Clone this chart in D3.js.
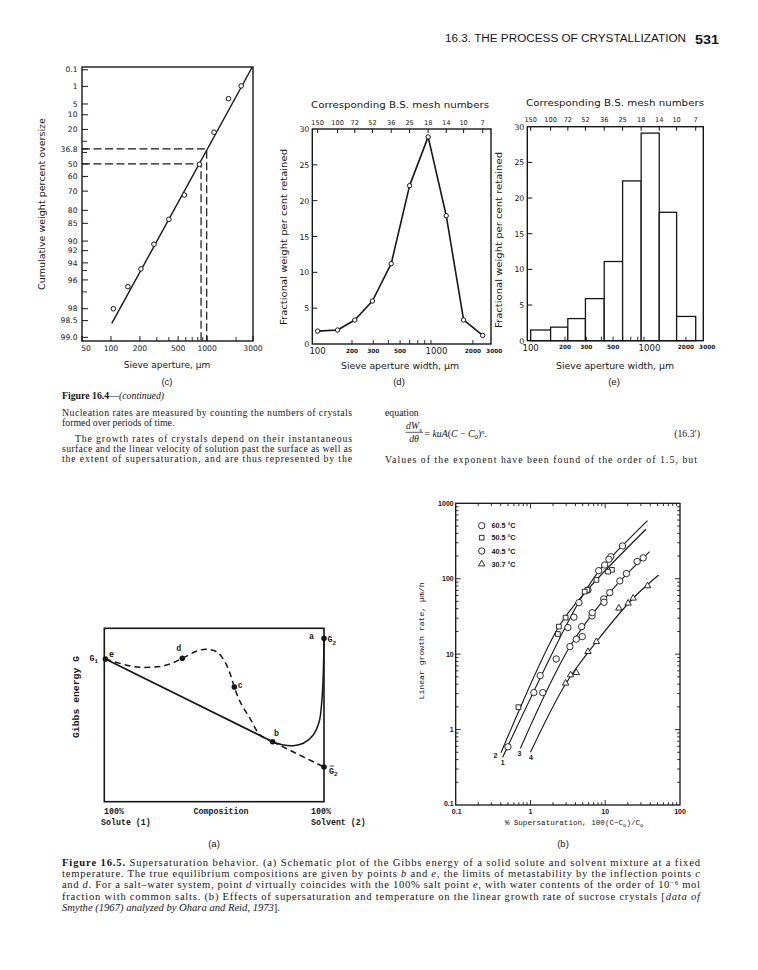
<!DOCTYPE html>
<html><head><meta charset="utf-8">
<script src="https://cdn.jsdelivr.net/npm/d3@7"></script>
<style>body{margin:0;background:#fff}</style>
</head><body>
<svg id="page" width="758" height="970"></svg>
<script>
// ================= DATA =================
const headerTitle = "16.3. THE PROCESS OF CRYSTALLIZATION";
const pageNumber = "531";

// Fig 16.4 (c) Rosin-Rammler plot
const cSize = [106, 150, 205, 280, 400, 580, 830, 1180, 1670, 2260];
const cOversize = [98.0, 96.6, 94.8, 90.7, 83.6, 72.3, 50.3, 22.2, 3.3, 0.95];
const cFitSize = [102, 2950];
const cFitOversize = [98.6, 0.062];
const cRefPct = [36.8, 50];
const cRefSize = [990, 865];
const cYTicks = [0.1, 1, 5, 10, 20, 36.8, 50, 60, 70, 80, 85, 90, 92, 94, 96, 98, 98.5, 99.0];
const cYTickLabels = ["0.1","1","5","10","20","36.8","50","60","70","80","85","90","92","94","96","98","98.5","99.0"];
const cYMinor = [30, 40, 95, 97];
const cXTicks = [50, 100, 200, 500, 1000, 3000];
const cXMinor = [300, 400, 600, 700, 800, 900, 2000];

// Fig 16.4 (d),(e)
const meshNumbers = ["150","100","72","52","36","25","18","14","10","7"];
const meshAperture = [104, 152, 211, 295, 422, 599, 853, 1204, 1676, 2411];
const dRetained = [1.8, 1.95, 3.35, 6.0, 11.2, 22.1, 28.9, 17.9, 3.35, 1.2];
const eRetained = [1.5, 1.9, 3.1, 5.9, 11.1, 22.4, 29.1, 18.0, 3.4];
const sieveTicks = [100, 200, 300, 500, 1000, 2000, 3000];
const sieveMinor = [200, 300, 400, 500, 600, 700, 800, 900, 2000];
const pctTicks = [0, 5, 10, 15, 20, 25, 30];

// Fig 16.5 (a) Gibbs energy schematic (composition %, G arbitrary 0-100)
const gibbsPointName = ["e", "d", "c", "b", "a", "G2bar"];
const gibbsPointX = [0.5, 35.5, 59.2, 76.6, 100, 100];
const gibbsPointY = [82.3, 82.7, 66.1, 34.6, 94.2, 20];
const gibbsDashedX = [0.5, 13.2, 20.8, 28.4, 35.5, 42.1, 46.6, 51.2, 54.9, 57.2, 59.2, 61.8, 66.3, 70.9, 76.6];
const gibbsDashedY = [82.3, 77.9, 77.5, 78.8, 82.7, 86.9, 87.9, 86.5, 80.7, 74.0, 66.1, 57.7, 48.1, 38.5, 34.6];
const gibbsSolidX = [76.6, 81.5, 86.0, 90.6, 95.1, 97.8, 99.1, 99.7, 100];
const gibbsSolidY = [34.6, 32.7, 32.3, 33.7, 38.5, 46.1, 59.6, 75.0, 94.2];

// Fig 16.5 (b) growth rate vs supersaturation
const growthSeries = ["60.5 °C", "50.5 °C", "40.5 °C", "30.7 °C"];
const growthSymbol = ["circle", "square", "circle", "triangle"];
const growth605 = [[17.0,272],[11.85,196],[11.2,181],[9.85,152],[8.18,128],[5.88,71],[4.45,48.2],[3.81,30.9],[3.17,22.5],[2.21,8.63],[1.35,5.19],[1.11,3.09],[0.50,0.59]];
const growth505 = [[12.3,131],[10.9,124],[7.62,96.4],[5.77,71],[5.3,67.4],[2.95,30.5],[2.4,23.2],[2.33,18.5],[0.69,1.98]];
const growth405 = [[32.2,189],[26.7,169],[19.2,117],[15.7,93.5],[11.5,65.5],[9.55,54],[9.64,48.8],[6.65,32.1],[6.7,35.5],[4.84,23.2],[4.93,17.1],[4.1,15.8],[3.37,12.6],[1.46,3.09]];
const growth307 = [[36.8,80.3],[23.6,55.1],[20.2,47.3],[15.2,40.6],[7.62,14.6],[5.88,10.8],[4.1,5.69],[3.44,5.3],[2.95,4.11]];
const growthLine1 = [[0.425,0.43],[4.1,42.7],[8.44,131],[15.7,254],[36.8,590]];
const growthLine2 = [[0.404,0.494],[2.4,23.2],[5.77,71],[35,453]];
const growthLine3 = [[0.734,0.565],[3.37,12.6],[11.5,65.5],[39.2,229]];
const growthLine4 = [[1.0,0.5],[2.95,4.03],[7.62,14.6],[23.6,55.1],[51.8,112]];
const growthLineLabels = ["1", "2", "3", "4"];
const growthXTickLabels = ["0.1", "1", "10", "100"];
const growthYTickLabels = ["0.1", "1", "10", "100", "1000"];

// Text
const bodyLeft = [
  [["Figure 16.4","B"],["—",""],["(continued)","I"]],
  [["Nucleation rates are measured by counting the numbers of crystals",""]],
  [["formed over periods of time.",""]],
  [["The growth rates of crystals depend on their instantaneous",""]],
  [["surface and the linear velocity of solution past the surface as well as",""]],
  [["the extent of supersaturation, and are thus represented by the",""]]
];
const captionLines = [
  [["Figure 16.5.","B"],[" Supersaturation behavior. (a) Schematic plot of the Gibbs energy of a solid solute and solvent mixture at a fixed",""]],
  [["temperature. The true equilibrium compositions are given by points ",""],["b","I"],[" and ",""],["e","I"],[", the limits of metastability by the inflection points ",""],["c","I"]],
  [["and ",""],["d","I"],[". For a salt–water system, point ",""],["d","I"],[" virtually coincides with the 100% salt point ",""],["e","I"],[", with water contents of the order of 10",""],["−6","^"],[" mol",""]],
  [["fraction with common salts. (b) Effects of supersaturation and temperature on the linear growth rate of sucrose crystals [",""],["data of","I"]],
  [["Smythe (1967) analyzed by Ohara and Reid, 1973","I"],["].",""]]
];

// ================= DRAWING =================
const INK = "#161616";
const SANS = "DejaVu Sans";
const svg = d3.select("#page");
svg.append("rect").attr("width", 758).attr("height", 970).attr("fill", "#fff");

function rich(parent, x, y, segs, o) {
  const size = o.size || 10;
  const t = parent.append("text").attr("x", x).attr("y", y)
    .attr("font-family", o.family || "Liberation Serif").attr("font-size", size).attr("fill", INK);
  if (o.anchor) t.attr("text-anchor", o.anchor);
  if (o.weight) t.attr("font-weight", o.weight);
  if (o.length) t.attr("textLength", o.length).attr("lengthAdjust", o.adjust || "spacing");
  let shift = 0;
  segs.forEach(([s, st]) => {
    const sp = t.append("tspan").text(s);
    let want = 0;
    if (st.includes("B")) sp.attr("font-weight", "bold");
    if (st.includes("I")) sp.attr("font-style", "italic");
    if (st.includes("_")) { want = size * 0.3; sp.attr("font-size", size * 0.72); }
    if (st.includes("^")) { want = -size * 0.3; sp.attr("font-size", size * 0.66); }
    if (want !== shift) { sp.attr("dy", want - shift); shift = want; }
  });
  return t;
}
function label(parent, x, y, s, o) {
  const t = parent.append("text").attr("x", x).attr("y", y).text(s)
    .attr("font-family", o.family || SANS).attr("font-size", o.size || 8).attr("fill", INK)
    .attr("text-anchor", o.anchor || "middle");
  if (o.weight) t.attr("font-weight", o.weight);
  if (o.rotate) t.attr("transform", `rotate(-90,${x},${y})`);
  if (o.length) t.attr("textLength", o.length).attr("lengthAdjust", "spacingAndGlyphs");
  return t;
}
function seg(parent, x1, y1, x2, y2, w) {
  return parent.append("line").attr("x1", x1).attr("y1", y1).attr("x2", x2).attr("y2", y2)
    .attr("stroke", INK).attr("stroke-width", w || 1);
}

// ---------- header ----------
label(svg, 445, 42, headerTitle, {family: "Liberation Sans", size: 10, anchor: "start", length: 241});
label(svg, 695, 43.5, pageNumber, {family: "Liberation Sans", size: 12.5, anchor: "start", weight: "bold", length: 24});

// ---------- (c) ----------
{
  const g = svg.append("g");
  const x = d3.scaleLog().domain([50, 3000]).range([82, 253]);
  const v = d3.scaleLinear().domain([-4.69, 2.0]).range([341, 67]);
  const y = R => v(Math.log(Math.log(100 / R)));
  const [x0, x1] = x.range(), [y0, y1] = v.range();
  g.append("rect").attr("x", x0).attr("y", y1).attr("width", x1 - x0).attr("height", y0 - y1)
    .attr("fill", "none").attr("stroke", INK).attr("stroke-width", 1.4);
  cYTicks.forEach((t, i) => {
    seg(g, x0, y(t), x0 + 6, y(t), 1);
    label(g, x0 - 4.5, y(t) + 2.7, cYTickLabels[i], {size: 7.6, anchor: "end"});
  });
  cYMinor.forEach(t => seg(g, x0, y(t), x0 + 5, y(t), 0.9));
  cXTicks.forEach(t => {
    seg(g, x(t), y0, x(t), y0 - 5, 1);
    label(g, x(t) + (t === 50 ? 4 : 0), y0 + 9.5, String(t), {size: 7.6});
  });
  cXMinor.forEach(t => seg(g, x(t), y0, x(t), y0 - 4, 0.9));
  cRefPct.forEach((p, i) => {
    g.append("path").attr("d", `M${x0},${y(p)}H${x(cRefSize[i])}V${y0}`)
      .attr("fill", "none").attr("stroke", INK).attr("stroke-width", 1.2).attr("stroke-dasharray", "8,3.5");
  });
  seg(g, x(cFitSize[0]), y(cFitOversize[0]), x(cFitSize[1]), y(cFitOversize[1]), 1.4);
  g.selectAll("circle.c").data(cSize).join("circle")
    .attr("cx", d => x(d)).attr("cy", (d, i) => y(cOversize[i])).attr("r", 2.3)
    .attr("fill", "#fff").attr("stroke", INK).attr("stroke-width", 1);
  label(g, 45, 204, "Cumulative weight percent oversize", {size: 9, rotate: true, length: 172});
  label(g, 167, 368, "Sieve aperture, μm", {size: 9});
  label(g, 167, 385, "(c)", {family: "Liberation Sans", size: 9.5});
}

// ---------- (d) and (e) shared axes ----------
function sieveFrame(g, x, y, o) {
  const [x0, x1] = x.range(), [y0, y1] = y.range();
  g.append("rect").attr("x", x0).attr("y", y1).attr("width", x1 - x0).attr("height", y0 - y1)
    .attr("fill", "none").attr("stroke", INK).attr("stroke-width", 1.4);
  pctTicks.forEach(t => {
    if (t > 0 && t < 30) seg(g, x0, y(t), x0 + 5, y(t), 1);
    label(g, x0 - 3, y(t) + 3, String(t), {size: 7.8, anchor: "end"});
  });
  meshAperture.forEach((a, i) => {
    seg(g, x(a), y1, x(a), y1 + 4, 1);
    label(g, x(a), y1 - 4.5, meshNumbers[i], {size: 6.6});
  });
  sieveMinor.forEach(t => seg(g, x(t), y0, x(t), y0 - 4, 0.9));
  sieveTicks.forEach(t => {
    const big = (t === 100 || t === 1000);
    label(g, x(t) + (t === 100 ? 2 : 0), y0 + (big ? 10 : 8.5), String(t),
      {size: big ? 8.6 : 5.8, weight: big ? null : "bold"});
  });
  label(g, o.cx, o.titleY, "Corresponding B.S. mesh numbers", {size: 9.4, length: 178});
  label(g, o.ylx, o.yly, "Fractional weight per cent retained", {size: 8.8, rotate: true, length: 176});
  label(g, o.cx, 369, "Sieve aperture width, μm", {size: 9, length: 118});
  label(g, o.cx - 1, 385, o.tag, {family: "Liberation Sans", size: 9.5});
}
{
  const g = svg.append("g");
  const x = d3.scaleLog().domain([93.9, 2824]).range([312.3, 491]);
  const y = d3.scaleLinear().domain([0, 30]).range([344, 129]);
  sieveFrame(g, x, y, {cx: 400, titleY: 108, ylx: 287, yly: 237, tag: "(d)"});
  const line = d3.line().x((d, i) => x(meshAperture[i])).y(d => y(d));
  g.append("path").attr("d", line(dRetained)).attr("fill", "none").attr("stroke", INK)
    .attr("stroke-width", 1.6).attr("stroke-linejoin", "round");
  g.selectAll("circle.d").data(dRetained).join("circle")
    .attr("cx", (d, i) => x(meshAperture[i])).attr("cy", d => y(d)).attr("r", 2.2)
    .attr("fill", "#fff").attr("stroke", INK).attr("stroke-width", 1);
}
{
  const g = svg.append("g");
  const x = d3.scaleLog().domain([97.5, 2786]).range([527.3, 703.3]);
  const y = d3.scaleLinear().domain([0, 30]).range([340.7, 126.7]);
  g.selectAll("rect.bar").data(eRetained).join("rect")
    .attr("x", (d, i) => x(meshAperture[i])).attr("width", (d, i) => x(meshAperture[i + 1]) - x(meshAperture[i]))
    .attr("y", d => y(d)).attr("height", d => y(0) - y(d))
    .attr("fill", "#fff").attr("stroke", INK).attr("stroke-width", 1.3);
  sieveFrame(g, x, y, {cx: 615, titleY: 106, ylx: 502, yly: 240, tag: "(e)"});
}

// ---------- body text ----------
{
  const g = svg.append("g");
  const ys = [398.5, 415.5, 426.3, 441.5, 451.8, 462.3];
  const xs = [62, 62, 62, 75, 62, 62];
  const lens = [null, 290, null, 277, 290, 290];
  bodyLeft.forEach((l, i) => rich(g, xs[i], ys[i], l, {size: 9.8, length: lens[i]}));
  rich(g, 385, 415.5, [["equation", ""]], {size: 9.8});
  rich(g, 414, 429, [["dW", "I"], ["s", "I_"]], {size: 9.8, anchor: "middle"});
  seg(g, 405.5, 432.3, 423, 432.3, 0.7);
  rich(g, 414, 442, [["dθ", "I"]], {size: 9.8, anchor: "middle"});
  rich(g, 424.5, 436.5, [["= ", ""], ["kuA", "I"], ["(", ""], ["C", "I"], [" − ", ""], ["C", "I"], ["0", "_"], [")", ""], ["n", "I^"], [".", ""]], {size: 9.8});
  rich(g, 700, 437, [["(16.3′)", ""]], {size: 9.8, anchor: "end"});
  rich(g, 385, 463.3, [["Values of the exponent have been found of the order of 1.5, but", ""]], {size: 9.8, length: 312});
}

// ---------- (a) Gibbs ----------
{
  const g = svg.append("g");
  const MONO = "Liberation Mono";
  const x = d3.scaleLinear().domain([0, 100]).range([104.3, 324]);
  const y = d3.scaleLinear().domain([0, 100]).range([801.7, 628.3]);
  const [x0, x1] = x.range(), [y0, y1] = y.range();
  g.append("rect").attr("x", x0).attr("y", y1).attr("width", x1 - x0).attr("height", y0 - y1)
    .attr("fill", "none").attr("stroke", INK).attr("stroke-width", 1.6);
  const P = i => [x(gibbsPointX[i]), y(gibbsPointY[i])];
  const iE = 0, iD = 1, iC = 2, iB = 3, iA = 4, iG = 5;
  seg(g, ...P(iE), ...P(iB), 1.6);
  seg(g, ...P(iB), ...P(iG), 1.6).attr("stroke-dasharray", "6,4");
  const curve = d3.line().curve(d3.curveCatmullRom.alpha(0.5)).x(d => x(d[0])).y(d => y(d[1]));
  g.append("path").attr("d", curve(gibbsDashedX.map((d, i) => [d, gibbsDashedY[i]])))
    .attr("fill", "none").attr("stroke", INK).attr("stroke-width", 1.5).attr("stroke-dasharray", "6,4");
  g.append("path").attr("d", curve(gibbsSolidX.map((d, i) => [d, gibbsSolidY[i]])))
    .attr("fill", "none").attr("stroke", INK).attr("stroke-width", 1.5);
  gibbsPointName.forEach((n, i) => {
    g.append("circle").attr("cx", P(i)[0]).attr("cy", P(i)[1]).attr("r", 2.8).attr("fill", INK);
  });
  const mono = (xx, yy, segs, anchor) => rich(g, xx, yy, segs, {family: MONO, size: 8.3, anchor: anchor || "start", weight: "bold"});
  mono(P(iE)[0] - 16, P(iE)[1] + 2, [["G", ""], ["1", "_"]]);
  mono(P(iE)[0] + 3.5, P(iE)[1] - 2, [["e", ""]]);
  mono(P(iD)[0] - 6, P(iD)[1] - 7, [["d", ""]]);
  mono(P(iC)[0] + 3.5, P(iC)[1] + 0.5, [["c", ""]]);
  mono(P(iB)[0] + 1.5, P(iB)[1] - 6, [["b", ""]]);
  mono(P(iA)[0] - 15, P(iA)[1] + 1, [["a", ""]]);
  mono(P(iA)[0] + 3.5, P(iA)[1] + 4, [["G", ""], ["2", "_"]]);
  mono(P(iG)[0] + 5, P(iG)[1] + 6.5, [["G", ""], ["2", "_"]]);
  seg(g, P(iG)[0] + 5.5, P(iG)[1] - 1, P(iG)[0] + 10, P(iG)[1] - 1, 0.8);
  label(g, 78.5, 697, "Gibbs energy G", {family: MONO, size: 8.3, rotate: true, length: 82, weight: "bold"});
  label(g, 104, 814, "100%", {family: MONO, size: 8.3, anchor: "start", weight: "bold"});
  label(g, 101, 825, "Solute (1)", {family: MONO, size: 8.3, anchor: "start", weight: "bold"});
  label(g, 221, 814, "Composition", {family: MONO, size: 8.3, weight: "bold"});
  label(g, 311, 814, "100%", {family: MONO, size: 8.3, anchor: "start", weight: "bold"});
  label(g, 311, 825, "Solvent (2)", {family: MONO, size: 8.3, anchor: "start", weight: "bold"});
  label(g, 214, 846.5, "(a)", {family: "Liberation Sans", size: 9.5});
}

// ---------- (b) growth ----------
{
  const g = svg.append("g");
  const MONO = "Liberation Mono";
  const x = d3.scaleLog().domain([0.1, 100]).range([455.7, 680]);
  const y = d3.scaleLog().domain([0.1, 1000]).range([805, 503.3]);
  const [x0, x1] = x.range(), [y0, y1] = y.range();
  g.append("rect").attr("x", x0).attr("y", y1).attr("width", x1 - x0).attr("height", y0 - y1)
    .attr("fill", "none").attr("stroke", INK).attr("stroke-width", 1.3);
  const logTicks = dom => {
    const out = [];
    for (let e = Math.round(Math.log10(dom[0])); e < Math.round(Math.log10(dom[1])); e++)
      for (let m = 1; m <= 9; m++) out.push({v: m * Math.pow(10, e), major: m === 1});
    return out;
  };
  logTicks(x.domain()).forEach(t => {
    if (t.v <= x.domain()[0]) return;
    const L = t.major ? 5 : 2.8;
    seg(g, x(t.v), y0, x(t.v), y0 - L, 0.9);
    seg(g, x(t.v), y1, x(t.v), y1 + L, 0.9);
  });
  logTicks(y.domain()).forEach(t => {
    if (t.v <= y.domain()[0]) return;
    const L = t.major ? 5 : 2.8;
    seg(g, x0, y(t.v), x0 + L, y(t.v), 0.9);
    seg(g, x1, y(t.v), x1 - L, y(t.v), 0.9);
  });
  [0.1, 1, 10, 100].forEach((t, i) => {
    label(g, x(t) + (i === 0 ? 1 : 0), y0 + 8.5, growthXTickLabels[i], {family: "Liberation Sans", size: 7, weight: "bold"});
  });
  [0.1, 1, 10, 100, 1000].forEach((t, i) => {
    label(g, x0 - 2, y(t) + 2.5 - (i === 0 ? 1.5 : 0), growthYTickLabels[i], {family: "Liberation Sans", size: 7, anchor: "end", weight: "bold"});
  });
  const curve = d3.line().curve(d3.curveCatmullRom.alpha(0.5)).x(d => x(d[0])).y(d => y(d[1]));
  const lines = [growthLine1, growthLine2, growthLine3, growthLine4];
  const offs = [[0, 8], [-5.5, 5], [-1, 7.5], [0.5, 7.5]];
  lines.forEach((ln, i) => {
    g.append("path").attr("d", curve(ln)).attr("fill", "none").attr("stroke", INK).attr("stroke-width", 1.1);
    label(g, x(ln[0][0]) + offs[i][0], y(ln[0][1]) + offs[i][1], growthLineLabels[i], {family: "Liberation Sans", size: 7, weight: "bold"});
  });
  const symGen = {
    circle: d3.symbol(d3.symbolCircle, 32),
    square: d3.symbol(d3.symbolSquare, 22),
    triangle: d3.symbol(d3.symbolTriangle, 18)
  };
  const series = [growth605, growth505, growth405, growth307];
  series.forEach((pts, si) => {
    g.selectAll(null).data(pts).join("path")
      .attr("d", symGen[growthSymbol[si]]())
      .attr("transform", d => `translate(${x(d[0])},${y(d[1])})`)
      .attr("fill", "#fff").attr("stroke", INK).attr("stroke-width", 0.9);
  });
  const legY = [525.7, 537.7, 551, 564];
  growthSeries.forEach((s, i) => {
    g.append("path").attr("d", symGen[growthSymbol[i]]()).attr("transform", `translate(481.7,${legY[i]})`)
      .attr("fill", "#fff").attr("stroke", INK).attr("stroke-width", 0.9);
    label(g, 491.5, legY[i] + 2.6, s, {family: "Liberation Sans", size: 7.2, anchor: "start", weight: "bold"});
  });
  label(g, 424, 641, "Linear growth rate, μm/h", {family: MONO, size: 8, rotate: true, length: 117});
  rich(g, 574, 825, [["% Supersaturation, 100(C−C", ""], ["o", "_"], [")/C", ""], ["o", "_"]], {family: MONO, size: 7.6, anchor: "middle"});
  label(g, 563, 846.5, "(b)", {family: "Liberation Sans", size: 9.5});
}

// ---------- caption ----------
{
  const g = svg.append("g");
  captionLines.forEach((l, i) => rich(g, 62, 866 + i * 11.2, l, {size: 10.6, length: i < 4 ? 638 : null}));
}
</script>
</body></html>
